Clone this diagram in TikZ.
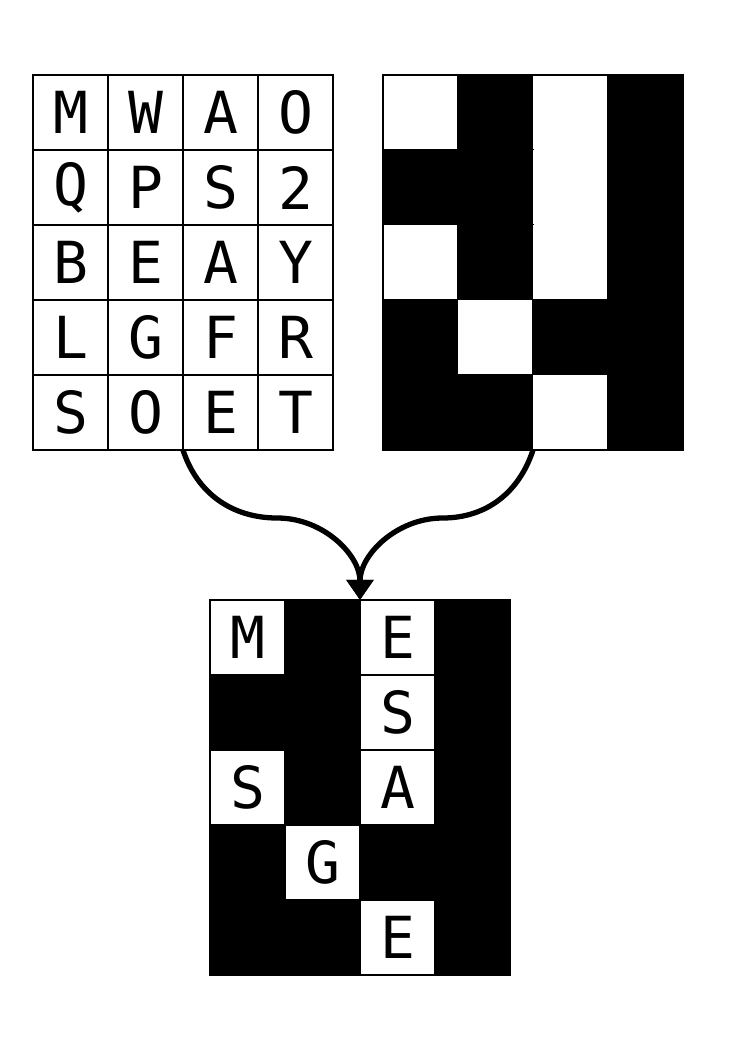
\documentclass[tikz,border=0pt]{standalone}
\usepackage{fontspec}
\setmonofont{DejaVu Sans Mono}
\usetikzlibrary{arrows.meta}
\begin{document}
\begin{tikzpicture}[
    cell/.style={draw, line width=1.1pt, minimum size=1cm, inner sep=0pt, outer sep=0pt,
      font=\ttfamily\fontsize{22}{26}\selectfont},
    hole/.style={cell, fill=white},
    gap/.style={hole, draw=none},
    blk/.style={cell, fill=black},
    link/.style={line width=2pt, -{Triangle[width=0.35cm,length=0.27cm]}}]
  \useasboundingbox (0,0) rectangle (9.92,-14.027);
  \def\msgx{0.94}
  \def\maskx{5.607}
  \def\outx{3.3}

  % letter / mask bit / letter shown
  \foreach \row [count=\r] in {{M/1/M,W/0/,A/1/E,O/0/},{Q/0/,P/0/,S/1/S,2/0/},{B/1/S,E/0/,A/1/A,Y/0/},{L/0/,G/1/G,F/0/,R/0/},{S/0/,O/0/,E/1/E,T/0/}} {
    \foreach \ch/\m/\shown [count=\c] in \row {
      \node [cell] (msg-\r-\c) at ({\msgx+\c-1},{-0.5-\r}) {\ch};
      \ifnum\m=1
        \node [gap] (mask-\r-\c) at ({\maskx+\c-1},{-0.5-\r}) {};
        \node [hole] (out-\r-\c) at ({\outx+\c-1},{-7.5-\r}) {\shown};
      \else
        \node [blk] (mask-\r-\c) at ({\maskx+\c-1},{-0.5-\r}) {};
        \node [blk] (out-\r-\c) at ({\outx+\c-1},{-7.5-\r}) {};
      \fi
    }
  }
  \draw [line width=1.1pt] (mask-1-1.north west) rectangle (mask-5-4.south east);

  \coordinate (lbend) at (3.7,-6.907);
  \coordinate (rbend) at (5.9,-6.907);
  \draw [link] (msg-5-2.south east) to[out=-72,in=180] (lbend) to[out=0,in=90] (out-1-2.north east);
  \draw [link] (mask-5-2.south east) to[out=-108,in=0] (rbend) to[out=180,in=90] (out-1-2.north east);
\end{tikzpicture}
\end{document}
